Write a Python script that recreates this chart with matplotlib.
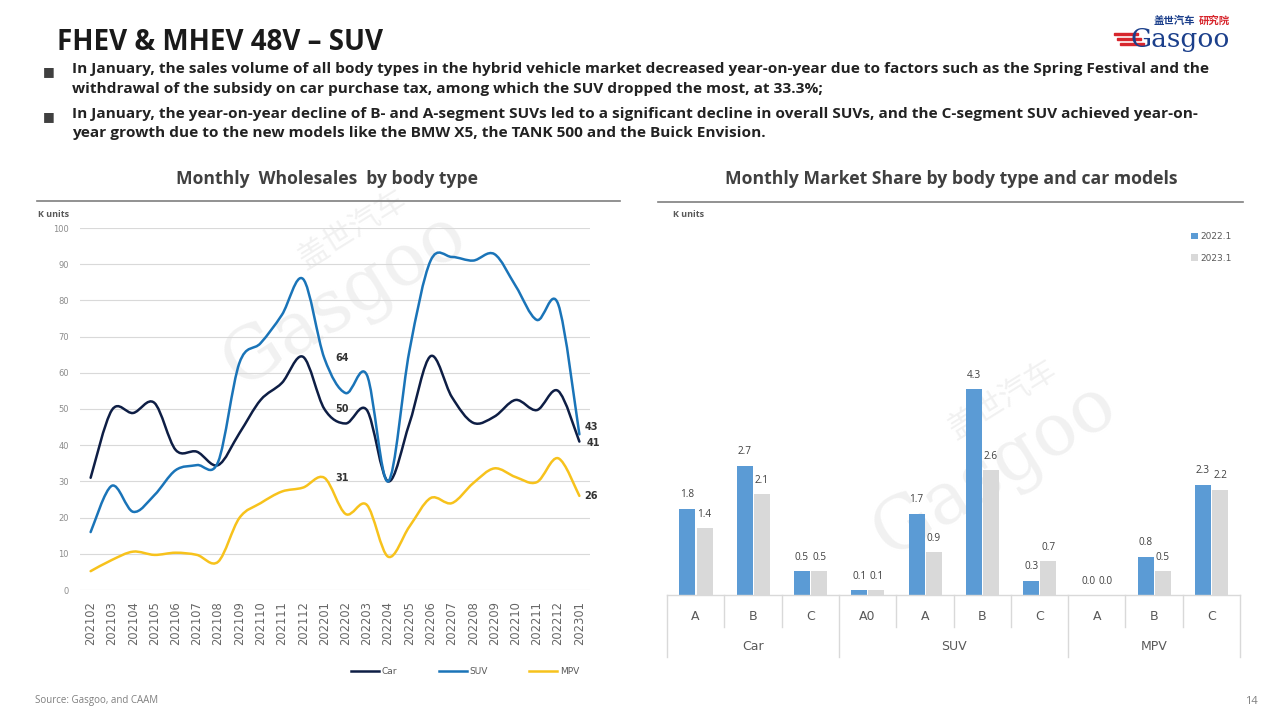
import matplotlib
matplotlib.use("Agg")
import matplotlib.pyplot as plt
import numpy as np
from matplotlib.path import Path
from matplotlib.patches import PathPatch, Rectangle
from matplotlib.lines import Line2D
from matplotlib import transforms

# ---- data ----
months = ["202102", "202103", "202104", "202105", "202106", "202107", "202108",
          "202109", "202110", "202111", "202112", "202201", "202202", "202203",
          "202204", "202205", "202206", "202207", "202208", "202209", "202210",
          "202211", "202212", "202301"]
car = [31, 49.7, 48.9, 51.7, 38.7, 38.2, 34.5, 43.3, 52.5, 57.2, 64.4, 50,
       46, 49.7, 30, 46, 64.6, 53.3, 46.2, 47.9, 52.5, 49.7, 55, 41]
suv = [16, 28.8, 21.6, 26.2, 33.1, 34.5, 35.4, 62.7, 68.2, 76, 85.9, 64,
       54.4, 59.4, 30, 66, 91, 92, 91, 92.8, 84, 74.6, 79, 43]
mpv = [5.2, 8.3, 10.6, 9.7, 10.3, 9.7, 7.8, 19.9, 24, 27.2, 28.3, 31,
       21, 23.5, 9.2, 17.5, 25.4, 24, 29.5, 33.6, 31.2, 29.8, 36.4, 26]

segments = ["A", "B", "C", "A0", "A", "B", "C", "A", "B", "C"]
groups = ["Car", "SUV", "MPV"]
group_sizes = [3, 4, 3]
share_2022 = [1.8, 2.7, 0.5, 0.1, 1.7, 4.3, 0.3, 0.0, 0.8, 2.3]
share_2023 = [1.4, 2.1, 0.5, 0.1, 0.9, 2.6, 0.7, 0.0, 0.5, 2.2]

bullets = [
    "In January, the sales volume of all body types in the hybrid vehicle market decreased year-on-year due to factors such as the Spring Festival and the\n"
    "withdrawal of the subsidy on car purchase tax, among which the SUV dropped the most, at 33.3%;",
    "In January, the year-on-year decline of B- and A-segment SUVs led to a significant decline in overall SUVs, and the C-segment SUV achieved year-on-\n"
    "year growth due to the new models like the BMW X5, the TANK 500 and the Buick Envision.",
]

NAVY = "#0E1E45"
BLUE = "#1A74B8"
GOLD = "#F7C21C"
BAR_BLUE = "#5B9BD5"
BAR_GRAY = "#D9D9D9"

W, H = 1280, 720


def fx(px):
    return px / W


def fy(py):
    return 1 - py / H


def smooth_path(xs, ys):
    # Excel style smoothed line (cubic bezier through every point)
    pts = np.column_stack([xs, ys]).astype(float)
    n = len(pts)
    verts = [pts[0]]
    codes = [Path.MOVETO]
    for i in range(n - 1):
        p0 = pts[i - 1] if i > 0 else pts[i]
        p1 = pts[i]
        p2 = pts[i + 1]
        p3 = pts[i + 2] if i + 2 < n else pts[i + 1]
        c1 = p1 + (p2 - p0) / 6
        c2 = p2 - (p3 - p1) / 6
        verts += [c1, c2, p2]
        codes += [Path.CURVE4] * 3
    return Path(verts, codes)


fig = plt.figure(figsize=(12.8, 7.2), dpi=100)
fig.patch.set_facecolor("white")

# ---- header ----
fig.text(fx(57), fy(42), "FHEV & MHEV 48V – SUV", fontsize=20, fontweight="bold",
         family="Open Sans", color="#1A1A1A", va="center")

line_y = [72, 117]
for y0, txt in zip(line_y, bullets):
    fig.text(fx(43), fy(y0), "■", fontsize=9, color="#404040", va="center",
             family="DejaVu Sans")
    fig.text(fx(72), fy(y0 - 10), txt, fontsize=11.1, fontweight="bold",
             family="Open Sans", color="#222222", va="top", linespacing=1.5)

# logo
fig.text(fx(1154), fy(21), "盖世汽车", fontsize=7.5, color="#1B3F8B", fontweight="bold",
         family="Noto Sans CJK SC", va="center")
fig.text(fx(1199), fy(21), "研究院", fontsize=7.5, color="#D7262D", fontweight="bold",
         family="Noto Sans CJK SC", va="center")
fig.text(fx(1130), fy(39), "Gasgoo", fontsize=19, color="#1B3F8B",
         family="DejaVu Serif", va="center")
for k in range(3):
    fig.patches.append(Rectangle((fx(1114 + k * 3), fy(35 + k * 5)), fx(24), 2.5 / H,
                                 transform=fig.transFigure, color="#D7262D"))

# section titles
fig.text(fx(327), fy(179), "Monthly  Wholesales  by body type", fontsize=12.6,
         fontweight="bold", family="Open Sans", color="#404040", ha="center", va="center")
fig.text(fx(951), fy(179), "Monthly Market Share by body type and car models", fontsize=12.7,
         fontweight="bold", family="Open Sans", color="#404040", ha="center", va="center")
fig.add_artist(Line2D([fx(37), fx(620)], [fy(201), fy(201)], color="#7F7F7F", lw=1.2))
fig.add_artist(Line2D([fx(658), fx(1243)], [fy(202), fy(202)], color="#7F7F7F", lw=1.2))

fig.text(fx(38), fy(214), "K units", fontsize=6.5, fontweight="bold", family="Open Sans",
         color="#595959", va="center")
fig.text(fx(673), fy(214), "K units", fontsize=6.5, fontweight="bold", family="Open Sans",
         color="#595959", va="center")

# watermarks
for (cx, cy) in [(345, 300), (995, 470)]:
    fig.text(fx(cx), fy(cy), "Gasgoo", fontsize=52, family="DejaVu Serif", color="#F1F1F1",
             rotation=32, ha="center", va="center", zorder=-1)
    fig.text(fx(cx + 8), fy(cy - 70), "盖世汽车", fontsize=22, family="Noto Sans CJK SC",
             color="#F1F1F1", rotation=32, ha="center", va="center", zorder=-1)

# ---- left: line chart ----
ax1 = fig.add_axes([fx(80), fy(590), fx(590) - fx(80), fy(228) - fy(590)])
ax1.patch.set_alpha(0)
x = np.arange(len(months))
for series, col in [(mpv, GOLD), (car, NAVY), (suv, BLUE)]:
    ax1.add_patch(PathPatch(smooth_path(x, series), fill=False, edgecolor=col, lw=1.8,
                            capstyle="round", joinstyle="round"))
ax1.set_xlim(-0.5, len(months) - 0.5)
ax1.set_ylim(0, 100)
ax1.set_yticks(np.arange(0, 101, 10))
ax1.yaxis.grid(True, color="#D9D9D9", lw=0.8)
ax1.set_axisbelow(True)
for s in ax1.spines.values():
    s.set_visible(False)
ax1.tick_params(axis="y", length=0, labelsize=6, labelcolor="#8C8C8C", pad=8)
ax1.set_xticks(x)
ax1.set_xticklabels(months, rotation=90, fontsize=8.3, color="#666666", family="DejaVu Sans")
ax1.tick_params(axis="x", length=0, pad=8)

i_mid = months.index("202201")
lbl_kw = dict(fontsize=7, fontweight="bold", family="DejaVu Sans", color="#333333", va="center")
ax1.text(i_mid + 0.5, 64, f"{suv[i_mid]:.0f}", **lbl_kw)
ax1.text(i_mid + 0.5, 50, f"{car[i_mid]:.0f}", **lbl_kw)
ax1.text(i_mid + 0.5, 31, f"{mpv[i_mid]:.0f}", **lbl_kw)
ax1.text(len(months) - 1 + 0.25, suv[-1] + 2, f"{suv[-1]:.0f}", **lbl_kw)
ax1.text(len(months) - 1 + 0.35, car[-1] - 0.5, f"{car[-1]:.0f}", **lbl_kw)
ax1.text(len(months) - 1 + 0.25, mpv[-1], f"{mpv[-1]:.0f}", **lbl_kw)

handles = [Line2D([], [], color=c, lw=1.8) for c in (NAVY, BLUE, GOLD)]
fig.legend(handles, ["Car", "SUV", "MPV"], loc="center", bbox_to_anchor=(fx(465), fy(672)),
           ncol=3, frameon=False, fontsize=6.5, handlelength=3.1, handletextpad=0.3,
           columnspacing=4.6, labelcolor="#595959")

# ---- right: grouped bars ----
ax2 = fig.add_axes([fx(667), fy(595), fx(1240) - fx(667), fy(226) - fy(595)])
ax2.patch.set_alpha(0)
xb = np.arange(len(segments))
bw = 0.28
b1 = ax2.bar(xb - 0.145, share_2022, bw, color=BAR_BLUE, label="2022.1")
b2 = ax2.bar(xb + 0.155, share_2023, bw, color=BAR_GRAY, label="2023.1")
ax2.bar_label(b1, fmt="%.1f", padding=6, fontsize=7.2, color="#404040", family="Open Sans")
ax2.bar_label(b2, fmt="%.1f", padding=6, fontsize=7.2, color="#404040", family="Open Sans")
ax2.set_xlim(-0.5, len(segments) - 0.5)
ax2.set_ylim(0, 7.7)
ax2.set_yticks([])
ax2.set_xticks([])
for s in ax2.spines.values():
    s.set_visible(False)

tr = transforms.blended_transform_factory(ax2.transData, fig.transFigure)
sep = "#D9D9D9"
ax2.add_artist(Line2D([-0.5, len(segments) - 0.5], [fy(595), fy(595)], transform=tr,
                      color=sep, lw=1, clip_on=False))
group_edges = np.cumsum([0] + group_sizes) - 0.5
for b in np.arange(-0.5, len(segments)):
    bottom = 657 if b in group_edges else 627
    ax2.add_artist(Line2D([b, b], [fy(595), fy(bottom)], transform=tr, color=sep, lw=1,
                          clip_on=False))
for i, seg in enumerate(segments):
    ax2.text(i, fy(616), seg, transform=tr, ha="center", va="center", fontsize=9,
             color="#595959")
for g, lo, hi in zip(groups, group_edges[:-1], group_edges[1:]):
    ax2.text((lo + hi) / 2, fy(647), g, transform=tr, ha="center", va="center",
             fontsize=9, color="#595959")

ax2.legend(loc="upper right", bbox_to_anchor=(fx(1240), fy(224)), bbox_transform=fig.transFigure,
           frameon=False, fontsize=6.5, handlelength=0.7, handleheight=0.7,
           handletextpad=0.3, labelspacing=1.4, labelcolor="#595959")

# ---- footer ----
fig.text(fx(35), fy(700), "Source: Gasgoo, and CAAM", fontsize=7, color="#7F7F7F",
         family="Open Sans", va="center")
fig.text(fx(1258), fy(701), "14", fontsize=8, color="#7F7F7F", family="Open Sans",
         ha="right", va="center")

fig.savefig("out.png", dpi=100)
